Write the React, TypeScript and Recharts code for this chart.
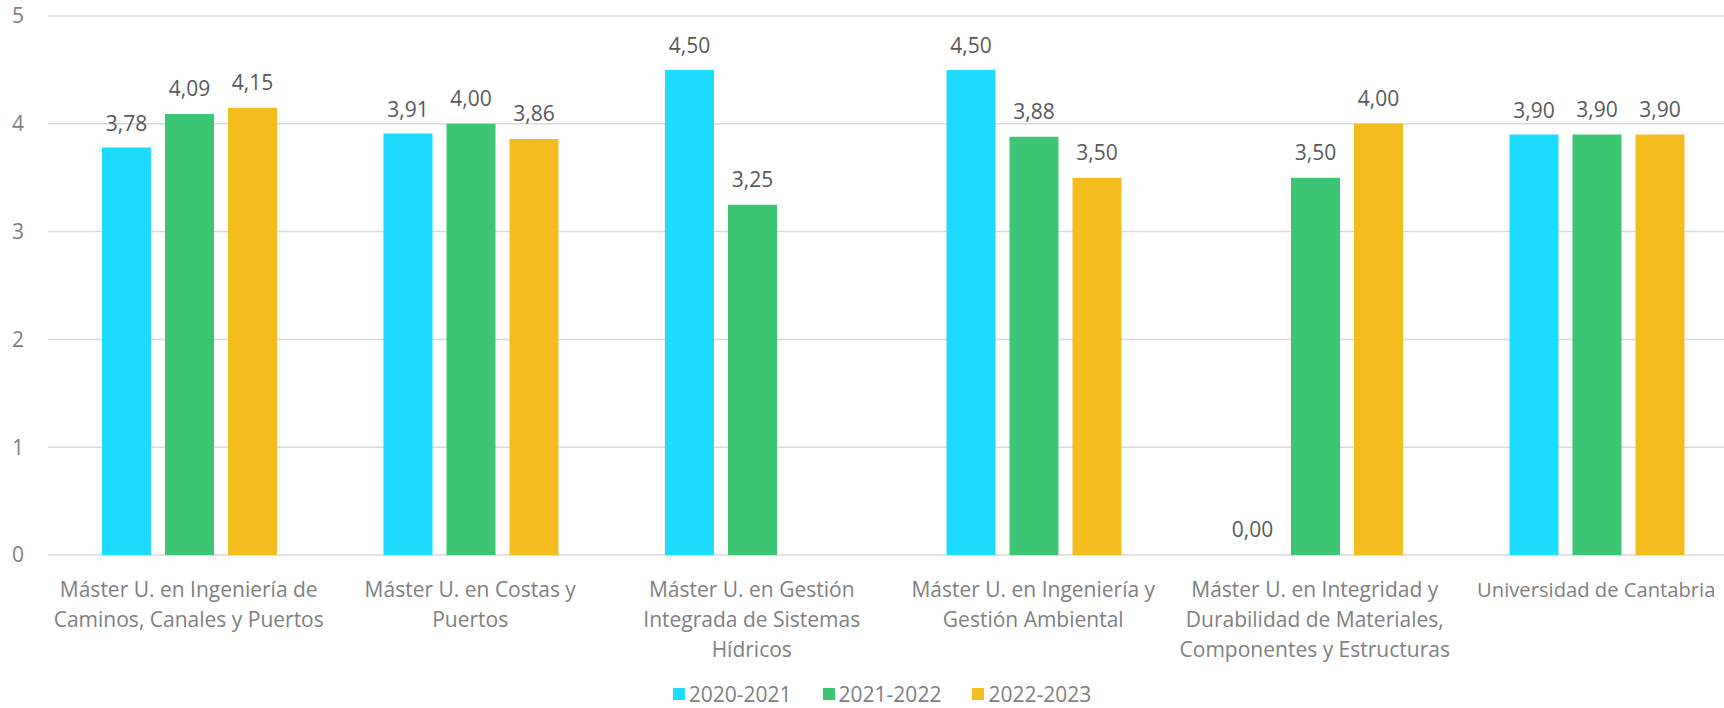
import React from "react";
import { Bar, BarChart, CartesianGrid, LabelList, Legend, Rectangle, XAxis, YAxis } from "recharts";

const categories = [
  "Máster U. en Ingeniería de\nCaminos, Canales y Puertos",
  "Máster U. en Costas y\nPuertos",
  "Máster U. en Gestión\nIntegrada de Sistemas\nHídricos",
  "Máster U. en Ingeniería y\nGestión Ambiental",
  "Máster U. en Integridad y\nDurabilidad de Materiales,\nComponentes y Estructuras",
  "Universidad de Cantabria",
];

const years = ["2020-2021", "2021-2022", "2022-2023"];
const values2020 = [3.78, 3.91, 4.5, 4.5, 0, 3.9];
const values2021 = [4.09, 4.0, 3.25, 3.88, 3.5, 3.9];
const values2022 = [4.15, 3.86, null, 3.5, 4.0, 3.9];
const yTicks = [0, 1, 2, 3, 4, 5];

const colors = ["#1DDCFF", "#3CC674", "#F4BC1E"];
const FONT = "'Open Sans', sans-serif";
const VISIBLE_W = 1716;

const data = categories.map((name, i) => ({
  name,
  y2020: values2020[i],
  y2021: values2021[i],
  y2022: values2022[i],
}));

const fmt = (v: any) => (v == null ? "" : Number(v).toFixed(2).replace(".", ","));

let ctx: CanvasRenderingContext2D | null = null;
function measure(s: string, size: number) {
  if (!ctx) ctx = document.createElement("canvas").getContext("2d");
  if (!ctx) return 0;
  ctx.font = `${size}px 'Open Sans', sans-serif`;
  return ctx.measureText(s).width;
}

function CategoryTick({ x, y, payload }: any) {
  const lines = String(payload.value).split("\n");
  return (
    <text x={x} y={y} textAnchor="middle" fill="#7F7F7F" fontSize={21} fontFamily={FONT}>
      {lines.map((line, i) => {
        const w = measure(line, 21);
        const size = x + w / 2 > VISIBLE_W ? Math.floor((21 * 2 * (VISIBLE_W - x) * 10) / w) / 10 : 21;
        return (
          <tspan key={i} x={x} y={y + 42 + i * 30} fontSize={size}>
            {line}
          </tspan>
        );
      })}
    </text>
  );
}

// zero values keep a 1px slot so the label is placed, but nothing is painted
function BarShape(props: any) {
  const v = Array.isArray(props.value) ? props.value[1] - props.value[0] : props.value;
  if (!v) return null;
  return <Rectangle {...props} />;
}

function LegendContent() {
  return (
    <div style={{ display: "flex", justifyContent: "center", paddingLeft: 27, fontFamily: FONT, fontSize: 21, color: "#7F7F7F", lineHeight: "28px" }}>
      {years.map((y, i) => (
        <div key={y} style={{ display: "flex", alignItems: "center", marginRight: i < years.length - 1 ? 31 : 0 }}>
          <span style={{ display: "inline-block", width: 12, height: 12, background: colors[i], marginRight: 4 }} />
          <span>{y}</span>
        </div>
      ))}
    </div>
  );
}

export default function App() {
  return (
    <div style={{ position: "absolute", left: 0, top: 0, width: 1724, height: 708, overflow: "hidden" }}>
      <BarChart
        width={1748}
        height={708}
        data={data}
        margin={{ top: 16, right: 11, bottom: 0, left: 0 }}
        barCategoryGap={54}
        barGap={14}
      >
        <CartesianGrid vertical={false} stroke="#D9D9D9" strokeWidth={1.5} />
        <XAxis
          dataKey="name"
          height={125}
          interval={0}
          axisLine={false}
          tickLine={false}
          tickSize={0}
          tickMargin={0}
          tick={<CategoryTick />}
        />
        <YAxis
          width={48}
          domain={[0, 5]}
          ticks={yTicks}
          axisLine={false}
          tickLine={false}
          tickSize={0}
          tickMargin={24}
          tick={{ fill: "#7F7F7F", fontSize: 21, fontFamily: FONT }}
        />
        <Legend verticalAlign="bottom" height={28} content={<LegendContent />} />
        <Bar dataKey="y2020" name={years[0]} fill={colors[0]} minPointSize={1} shape={<BarShape />} isAnimationActive={false}>
          <LabelList dataKey="y2020" position="top" offset={17} formatter={fmt} fill="#595959" fontSize={21} fontFamily={FONT} />
        </Bar>
        <Bar dataKey="y2021" name={years[1]} fill={colors[1]} isAnimationActive={false}>
          <LabelList dataKey="y2021" position="top" offset={18} formatter={fmt} fill="#595959" fontSize={21} fontFamily={FONT} />
        </Bar>
        <Bar dataKey="y2022" name={years[2]} fill={colors[2]} isAnimationActive={false}>
          <LabelList dataKey="y2022" position="top" offset={18} formatter={fmt} fill="#595959" fontSize={21} fontFamily={FONT} />
        </Bar>
      </BarChart>
    </div>
  );
}
